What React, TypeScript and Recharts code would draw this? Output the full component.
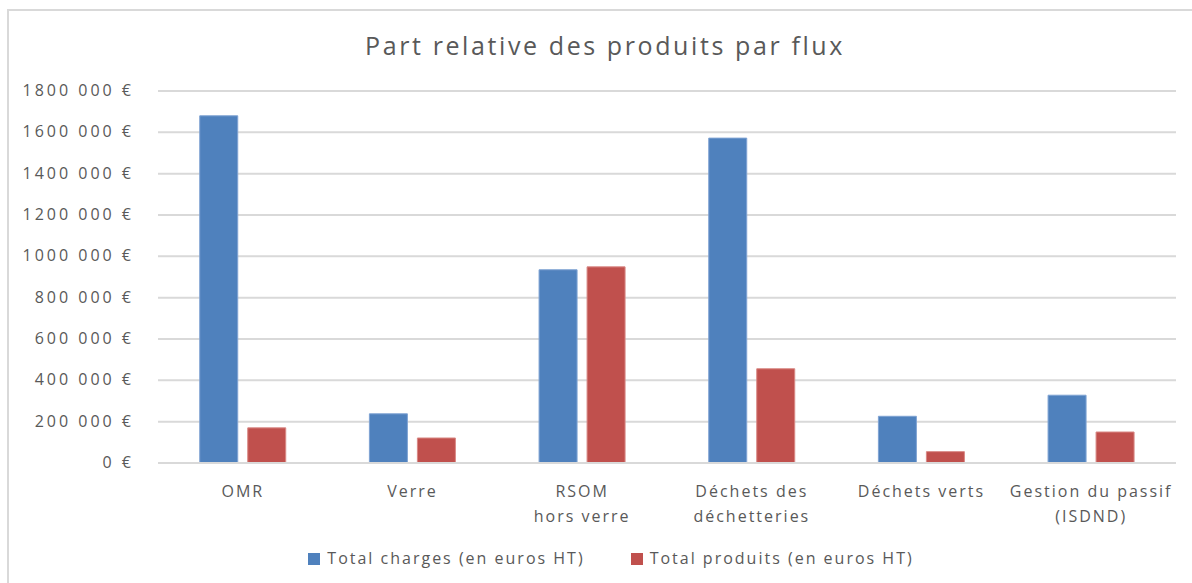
import { Bar, BarChart, CartesianGrid, Legend, XAxis, YAxis } from "recharts";

const categories = [
  "OMR",
  "Verre",
  "RSOM\nhors verre",
  "Déchets des\ndéchetteries",
  "Déchets verts",
  "Gestion du passif\n(ISDND)",
];
const charges = [1680000, 238000, 935000, 1572000, 226000, 328000];
const produits = [170000, 121000, 949000, 456000, 55000, 150000];
const yTicks = [0, 200000, 400000, 600000, 800000, 1000000, 1200000, 1400000, 1600000, 1800000];

const data = categories.map((name, i) => ({
  name,
  charges: charges[i],
  produits: produits[i],
}));

const FONT = "'Open Sans', sans-serif";
const GREY = "#595959";

const euro = (v: number) => {
  if (v < 1000) return `${v} €`;
  const k = Math.floor(v / 1000);
  const r = String(v % 1000).padStart(3, "0");
  return `${k} ${r} €`;
};

function CategoryTick(props: any) {
  const { x, y, payload } = props;
  const lines = String(payload.value).split("\n");
  return (
    <text x={x} y={y} textAnchor="middle" fill={GREY} fontSize={16} fontFamily={FONT} letterSpacing={2}>
      {lines.map((l, i) => (
        <tspan key={i} x={x} dy={i === 0 ? 26 : 25}>
          {l}
        </tspan>
      ))}
    </text>
  );
}

function YTick(props: any) {
  const { x, y, payload } = props;
  return (
    <text x={x} y={y} dy={5} textAnchor="end" fill={GREY} fontSize={16} fontFamily={FONT} letterSpacing={3}>
      {euro(payload.value)}
    </text>
  );
}

function LegendContent() {
  const items = [
    { label: "Total charges (en euros HT)", color: "#4F81BD" },
    { label: "Total produits (en euros HT)", color: "#C0504D" },
  ];
  return (
    <div
      style={{
        display: "flex",
        justifyContent: "center",
        gap: 46,
        fontFamily: FONT,
        fontSize: 16,
        color: GREY,
        letterSpacing: 2,
        paddingLeft: 30,
        lineHeight: "23px",
        height: 23,
      }}
    >
      {items.map((it) => (
        <div key={it.label} style={{ display: "flex", alignItems: "center" }}>
          <span style={{ width: 12, height: 12, background: it.color, display: "inline-block", marginRight: 7 }} />
          <span>{it.label}</span>
        </div>
      ))}
    </div>
  );
}

export default function App() {
  return (
    <div style={{ position: "fixed", left: 0, top: 0, width: 1192, height: 583, overflow: "hidden", background: "#fff" }}>
      <div
        style={{
          position: "absolute",
          left: 7,
          top: 9,
          width: 1300,
          height: 700,
          borderLeft: "2px solid #d9d9d9",
          borderTop: "2px solid #d9d9d9",
        }}
      />
      <div
        style={{
          position: "absolute",
          left: 9,
          width: 1192,
          top: 28,
          textAlign: "center",
          fontFamily: FONT,
          fontSize: 25,
          color: GREY,
          letterSpacing: 2.6,
        }}
      >
        Part relative des produits par flux
      </div>
      <div style={{ position: "absolute", left: 0, top: 0 }}>
        <BarChart
          width={1192}
          height={583}
          data={data}
          margin={{ top: 91, right: 16, left: 0, bottom: 0 }}
          barGap={10}
          barCategoryGap="24.6%"
        >
          <CartesianGrid vertical={false} stroke="#d9d9d9" strokeWidth={2} />
          <XAxis
            dataKey="name"
            interval={0}
            tickLine={false}
            axisLine={{ stroke: "#d9d9d9", strokeWidth: 2 }}
            tick={<CategoryTick />}
            height={97}
          />
          <YAxis
            width={158}
            domain={[0, 1800000]}
            ticks={yTicks}
            axisLine={false}
            tickLine={false}
            tickSize={0}
            tickMargin={24}
            tick={<YTick />}
          />
          <Legend
            content={<LegendContent />}
            wrapperStyle={{ position: "absolute", top: 547, left: 0, width: 1192 }}
          />
          <Bar dataKey="charges" name="Total charges (en euros HT)" fill="#4F81BD" stroke="#7fa3d3" strokeWidth={1} isAnimationActive={false} />
          <Bar dataKey="produits" name="Total produits (en euros HT)" fill="#C0504D" stroke="#d98885" strokeWidth={1} isAnimationActive={false} />
        </BarChart>
      </div>
    </div>
  );
}
